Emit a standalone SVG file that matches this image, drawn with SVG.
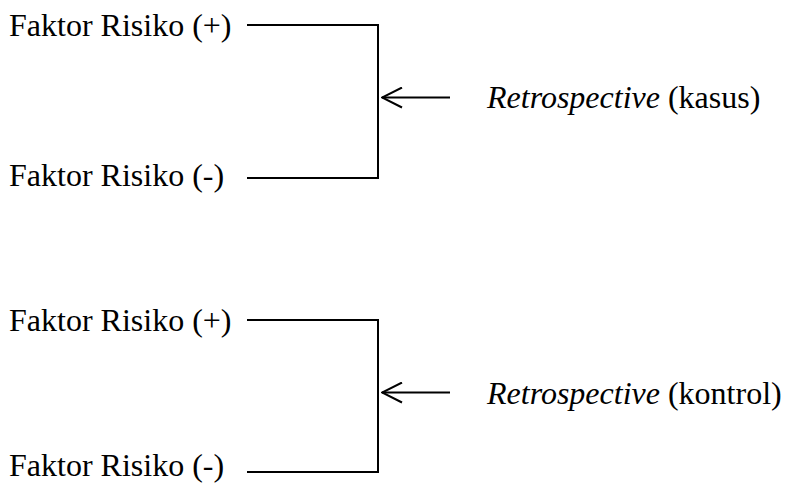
<svg xmlns="http://www.w3.org/2000/svg" width="787" height="484" viewBox="0 0 787 484">
  <style>
    text { font-family: "Liberation Serif", "Times New Roman", serif; font-size: 32px; fill: #000; }
    .it { font-style: italic; }
    .ln { fill: none; stroke: #000; stroke-width: 2; }
  </style>
  <defs>
    <!-- open chevron arrowhead, tip at the line end -->
    <marker id="open" viewBox="0 0 22 22" refX="21" refY="11" markerWidth="22" markerHeight="22" markerUnits="userSpaceOnUse" orient="auto">
      <path d="M1,1 L21,11 L1,21" fill="none" stroke="#000" stroke-width="2"/>
    </marker>
  </defs>
  <rect width="787" height="484" fill="#fff"/>

  <!-- case group -->
  <g id="kasus-plus"><text x="9" y="36">Faktor Risiko (+)</text></g>
  <g id="kasus-minus"><text x="9" y="186">Faktor Risiko (-)</text></g>
  <g id="kasus-label"><text x="487" y="108"><tspan class="it">Retrospective</tspan> (kasus)</text></g>

  <!-- control group -->
  <g id="kontrol-plus"><text x="9" y="331">Faktor Risiko (+)</text></g>
  <g id="kontrol-minus"><text x="9" y="476">Faktor Risiko (-)</text></g>
  <g id="kontrol-label"><text x="487" y="404"><tspan class="it">Retrospective</tspan> (kontrol)</text></g>

  <g id="connectors">
    <polyline class="ln" points="247,25 378,25 378,178 247,178"/>
    <line class="ln" x1="450" y1="97.5" x2="382" y2="97.5" marker-end="url(#open)"/>
    <polyline class="ln" points="247,320 378,320 378,472 247,472"/>
    <line class="ln" x1="450" y1="392.5" x2="382" y2="392.5" marker-end="url(#open)"/>
  </g>
</svg>
